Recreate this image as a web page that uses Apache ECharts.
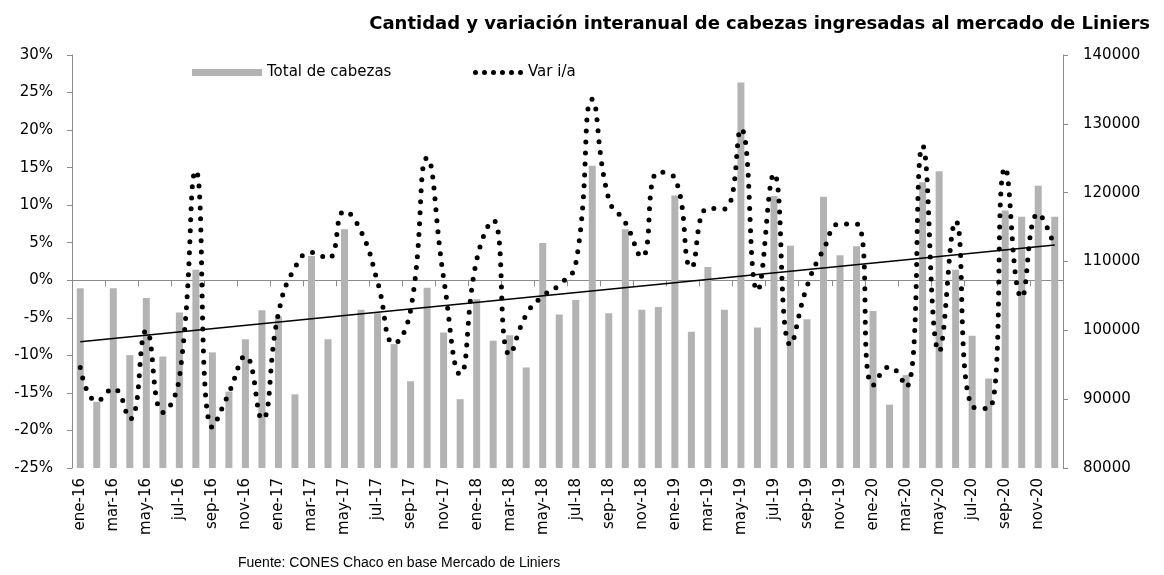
<!DOCTYPE html>
<html>
<head>
<meta charset="utf-8">
<script src="https://cdn.jsdelivr.net/npm/echarts@6/dist/echarts.min.js"></script>
<style>
  html, body { margin: 0; padding: 0; background: #fff; }
  #chart { width: 1164px; height: 575px; }
</style>
</head>
<body>
<div id="chart"></div>
<script>
// meses ene-16 .. dic-20
const meses = [
  "ene-16","feb-16","mar-16","abr-16","may-16","jun-16","jul-16","ago-16","sep-16","oct-16","nov-16","dic-16",
  "ene-17","feb-17","mar-17","abr-17","may-17","jun-17","jul-17","ago-17","sep-17","oct-17","nov-17","dic-17",
  "ene-18","feb-18","mar-18","abr-18","may-18","jun-18","jul-18","ago-18","sep-18","oct-18","nov-18","dic-18",
  "ene-19","feb-19","mar-19","abr-19","may-19","jun-19","jul-19","ago-19","sep-19","oct-19","nov-19","dic-19",
  "ene-20","feb-20","mar-20","abr-20","may-20","jun-20","jul-20","ago-20","sep-20","oct-20","nov-20","dic-20"
];

// total de cabezas (eje derecho)
const cabezas = [
  106100, 89600, 106100, 96400, 104700, 96200, 102600, 108800, 96800, 91100, 98700, 102900,
  102000, 90700, 110800, 98700, 114700, 103000, 102500, 98000, 92600, 106200, 99700, 90000,
  104500, 98500, 99300, 94600, 112700, 102300, 104400, 123900, 102500, 114700, 103000, 103400,
  119600, 99800, 109200, 103000, 136000, 100400, 119500, 112300, 101600, 119400, 110900, 112200,
  102800, 89200, 93500, 121500, 123100, 108800, 99200, 93000, 117400, 116500, 121000, 116500
];

// variacion interanual en % (eje izquierdo)
const varIa = [
  -11.6, -16.1, -14.4, -18.5, -6.7, -17.6, -13.0, 14.6, -19.6, -15.0, -10.1, -18.5,
  -4.4, 1.7, 3.7, 2.9, 9.2, 6.5, -0.2, -8.4, -4.0, 16.3, 0.3, -12.5,
  2.7, 8.0, -9.9, -4.6, -2.1, -0.6, 2.2, 24.1, 10.8, 7.7, 3.1, 14.4,
  13.6, 1.7, 9.6, 9.5, 20.2, -1.4, 14.2, -8.6, -0.8, 4.1, 7.5, 7.5,
  -14.0, -11.5, -14.2, 17.9, -9.5, 7.9, -16.8, -17.1, 15.0, -2.3, 8.9, 4.4
];

// tendencia lineal: valor al inicio y al final
const tendencia = [-8.2, 4.7];

const ticksIzq = [-25, 30, 5];
const ticksDer = [80000, 140000, 10000];

const trendData = meses.map((m, i) =>
  i === 0 ? tendencia[0] : i === meses.length - 1 ? tendencia[1] : null
);

// icono de leyenda: seis puntos
let dots = "path://";
for (let k = 0; k < 6; k++) {
  const cx = 2.5 + k * 9;
  dots += `M${cx - 2.5},2.5 a2.5,2.5 0 1,0 5,0 a2.5,2.5 0 1,0 -5,0 `;
}

const font = "DejaVu Sans";
const gris = "#8c8c8c";

const chart = echarts.init(document.getElementById("chart"));
const option = {
  animation: false,
  textStyle: { fontFamily: font },
  title: {
    text: "Cantidad y variación interanual de cabezas ingresadas al mercado de Liniers",
    right: 9,
    top: 10,
    textStyle: { fontFamily: font, fontSize: 18, fontWeight: "bold", color: "#000" },
  },
  legend: [
    {
      data: [{ name: "Total de cabezas", icon: "rect" }],
      left: 187,
      top: 60,
      itemWidth: 70,
      itemHeight: 7,
      textStyle: { fontFamily: font, fontSize: 15, color: "#000" },
    },
    {
      data: [{ name: "Var i/a", icon: dots }],
      left: 468,
      top: 60,
      itemWidth: 50,
      itemHeight: 5,
      itemStyle: { color: "#000" },
      textStyle: { fontFamily: font, fontSize: 15, color: "#000" },
    },
  ],
  grid: { left: 72, right: 101, top: 55, bottom: 107 },
  xAxis: [
    {
      type: "category",
      data: meses,
      position: "bottom",
      axisLine: { show: false, onZero: false },
      axisTick: { show: false },
      axisLabel: {
        interval: 1,
        rotate: 90,
        margin: 10,
        fontFamily: font,
        fontSize: 15,
        color: "#000",
      },
    },
    {
      type: "category",
      data: meses,
      position: "bottom",
      axisLine: { show: true, onZero: true, onZeroAxisIndex: 0, lineStyle: { color: gris, width: 1 } },
      axisTick: { show: true, interval: 1, length: 6, lineStyle: { color: gris } },
      axisLabel: { show: false },
    },
  ],
  yAxis: [
    {
      type: "value",
      min: ticksIzq[0],
      max: ticksIzq[1],
      interval: ticksIzq[2],
      axisLine: { show: true, lineStyle: { color: gris } },
      axisTick: { show: true, length: 5, lineStyle: { color: gris } },
      splitLine: { show: false },
      axisLabel: {
        formatter: "{value}%",
        margin: 19,
        fontFamily: font,
        fontSize: 15,
        color: "#000",
      },
    },
    {
      type: "value",
      min: ticksDer[0],
      max: ticksDer[1],
      interval: ticksDer[2],
      axisLine: { show: true, lineStyle: { color: gris } },
      axisTick: { show: true, length: 5, lineStyle: { color: gris } },
      splitLine: { show: false },
      axisLabel: {
        formatter: (v) => String(v),
        margin: 20,
        fontFamily: font,
        fontSize: 15,
        color: "#000",
      },
    },
  ],
  series: [
    {
      name: "Total de cabezas",
      type: "bar",
      yAxisIndex: 1,
      barWidth: 7,
      itemStyle: { color: "#b3b3b3" },
      data: cabezas,
    },
    {
      name: "Tendencia",
      type: "line",
      yAxisIndex: 0,
      connectNulls: true,
      symbol: "none",
      lineStyle: { color: "#000", width: 1.5 },
      data: trendData,
    },
    {
      name: "Var i/a",
      type: "line",
      yAxisIndex: 0,
      smooth: 0.5,
      symbol: "none",
      itemStyle: { color: "#000" },
      lineStyle: { color: "#000", width: 5, type: [0, 11], cap: "round" },
      data: varIa,
    },
  ],
  graphic: [
    {
      type: "text",
      left: 238,
      top: 556,
      style: {
        text: "Fuente: CONES Chaco en base Mercado de Liniers",
        font: '14px "Liberation Sans"',
        fill: "#000",
      },
    },
  ],
};
chart.setOption(option);
</script>
</body>
</html>
